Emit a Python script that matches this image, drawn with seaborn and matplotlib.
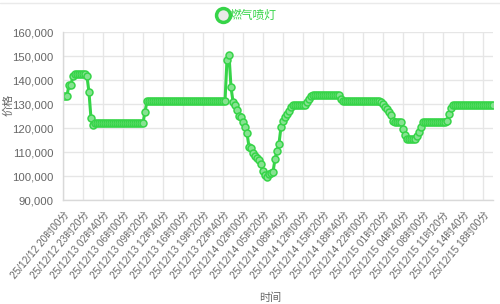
import matplotlib
matplotlib.use("Agg")
import matplotlib.pyplot as plt
from matplotlib.lines import Line2D
from matplotlib.ticker import FuncFormatter
import seaborn as sns
import pandas as pd

# ---- data (20-minute samples, starting 25/12/12 20:00) ----
start_time = "2025-12-12 20:00"
step_minutes = 20
series_name = "燃气喷灯"
prices = [
    133500, 133500, 133500, 138000, 138000,
    141800, 142700, 142700, 142700, 142700, 142700, 142700,
    141500, 134800, 124000, 121200,
    122200, 122200, 122200, 122200, 122200, 122200, 122200, 122200, 122200, 122200,
    122200, 122200, 122200, 122200, 122200, 122200, 122200, 122200, 122200, 122200,
    122200, 122200, 122200, 122200, 122200,
    126800,
    131200, 131200, 131200, 131200, 131200, 131200, 131200, 131200, 131200, 131200,
    131200, 131200, 131200, 131200, 131200, 131200, 131200, 131200, 131200, 131200,
    131200, 131200, 131200, 131200, 131200, 131200, 131200, 131200, 131200, 131200,
    131200, 131200, 131200, 131200, 131200, 131200, 131200, 131200, 131200, 131200,
    148500, 150500, 137000, 131000, 129600, 127500, 125200, 124500, 122500, 120400,
    117800, 112200, 111800, 109500, 108200, 107400, 106600, 104800, 102000, 100600,
    99600, 100800, 101300, 101700, 107000, 110500, 113500, 120500, 123000, 124600,
    126000, 127200, 128600,
    129400, 129400, 129400, 129400, 129400, 129400, 129400,
    130800, 132200, 133500,
    133700, 133700, 133700, 133700, 133700, 133700, 133700,
    133700, 133700, 133700, 133700, 133700, 133700, 133700,
    132000,
    131300, 131300, 131300, 131300, 131300, 131300, 131300, 131300, 131300, 131300,
    131300, 131300, 131300, 131300, 131300, 131300, 131300, 131300, 131300,
    130800, 129800, 128800, 127800, 126800, 125400, 122800,
    122300, 122300, 122300, 122300,
    119500, 117200,
    115400, 115400, 115400, 115400, 115400,
    116500, 118500, 120500,
    122300, 122300, 122300, 122300, 122300, 122300, 122300, 122300, 122300, 122300,
    122300, 122300,
    123000, 126000, 128500,
    129400, 129400, 129400, 129400, 129400, 129400, 129400, 129400, 129400, 129400,
    129400, 129400, 129400, 129400, 129400, 129400, 129400, 129400, 129400, 129400,
    129400,
]
y_ticks = [90000, 100000, 110000, 120000, 130000, 140000, 150000, 160000]
y_label = "价格"
x_label = "时间"
label_every = 10

times = pd.date_range(start_time, periods=len(prices), freq=f"{step_minutes}min")
df = pd.DataFrame({"idx": range(len(prices)), "price": prices})
tick_pos = list(range(0, len(prices), label_every))
tick_labels = [times[i].strftime("%y/%m/%d %H时%M分") for i in tick_pos]

# ---- style ----
sns.set_style("white")
plt.rcParams["font.family"] = ["Liberation Sans", "Noto Sans CJK SC", "DejaVu Sans"]

GREEN = "#36d448"
GRID = "#e6e6e6"
TXT = "#666666"

fig = plt.figure(figsize=(5.0, 3.04), dpi=100)
ax = fig.add_axes([63 / 500, 1 - 200 / 304, 430 / 500, 168 / 304])

sns.lineplot(data=df, x="idx", y="price", ax=ax, color=GREEN, linewidth=2.2,
             marker="o", markersize=5, markerfacecolor="#86e391",
             markeredgecolor=GREEN, markeredgewidth=1.1, legend=False)

ax.set_xlim(0, len(prices) - 1)
ax.set_ylim(y_ticks[0], y_ticks[-1])
ax.set_yticks(y_ticks)
ax.yaxis.set_major_formatter(FuncFormatter(lambda v, p: f"{int(v):,}"))
ax.set_xticks(tick_pos)
ax.set_xticklabels(tick_labels, rotation=50, ha="right", rotation_mode="anchor",
                   fontsize=7.2, color=TXT)
for lab in ax.get_yticklabels():
    lab.set_fontsize(8.2)
    lab.set_color(TXT)

ax.grid(True, color=GRID, linewidth=1.0)
ax.set_axisbelow(True)
for s in ["top", "right"]:
    ax.spines[s].set_visible(False)
for s in ["left", "bottom"]:
    ax.spines[s].set_color("#d9d9d9")
    ax.spines[s].set_linewidth(1.0)
ax.tick_params(axis="both", length=5, color=GRID, pad=2)

ax.set_xlabel(x_label, fontsize=8, color=TXT)
ax.set_ylabel(y_label, fontsize=8, color=TXT)
ax.xaxis.set_label_coords((270 - 63) / 430, -(293 - 200) / 168)
ax.yaxis.set_label_coords(-(63 - 13) / 430, (200 - 105) / 168)

handle = Line2D([], [], marker="o", linestyle="none", markersize=10,
                markerfacecolor="#e9e9e9", markeredgecolor=GREEN, markeredgewidth=2.5)
leg = fig.legend([handle], [series_name], loc="center", bbox_to_anchor=(247 / 500, 1 - 16 / 304),
                 frameon=False, fontsize=8.5, handletextpad=0.1, labelcolor=GREEN,
                 borderpad=0, handlelength=1.0)

fig.add_artist(Line2D([0, 1], [1 - 3 / 304, 1 - 3 / 304], transform=fig.transFigure,
                      color="#eaeaea", linewidth=1.0))

fig.savefig("out.png", dpi=100)
